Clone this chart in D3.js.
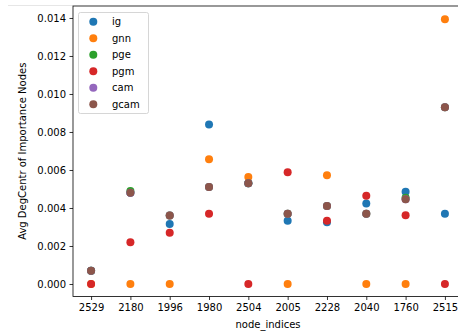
<!DOCTYPE html>
<html>
<head>
<meta charset="utf-8">
<script src="https://cdn.jsdelivr.net/npm/d3@7"></script>
<style>
  html, body { margin: 0; padding: 0; background: #fff; }
  svg { display: block; font-family: "DejaVu Sans", sans-serif; }
</style>
</head>
<body>
<div id="chart"></div>
<script>
// Node index categories along the x axis
const nodeIndices = ["2529", "2180", "1996", "1980", "2504", "2005", "2228", "2040", "1760", "2515"];

// Average degree centrality of important nodes per explainer
const ig   = [0.0007, 0.0048, 0.00316, 0.0084, 0.0053, 0.00333, 0.00325, 0.00423, 0.00486, 0.0037];
const gnn  = [0.0, 0.0, 0.0, 0.00656, 0.00563, 0.0, 0.00572, 0.0, 0.0, 0.01393];
const pge  = [0.0007, 0.0049, 0.00361, 0.0051, 0.0053, 0.0037, 0.0041, 0.0037, 0.00454, 0.0093];
const pgm  = [0.0, 0.0022, 0.0027, 0.0037, 0.0, 0.00588, 0.00333, 0.00465, 0.00362, 0.0];
const cam  = [0.0007, 0.0048, 0.00361, 0.0051, 0.0053, 0.0037, 0.0041, 0.0037, 0.00446, 0.0093];
const gcam = [0.0007, 0.0048, 0.00361, 0.0051, 0.0053, 0.0037, 0.0041, 0.0037, 0.00446, 0.0093];

const yTicks = [0.000, 0.002, 0.004, 0.006, 0.008, 0.010, 0.012, 0.014];

const seriesNames = ["ig", "gnn", "pge", "pgm", "cam", "gcam"];
const seriesValues = [ig, gnn, pge, pgm, cam, gcam];
const seriesColors = ["#1f77b4", "#ff7f0e", "#2ca02c", "#d62728", "#9467bd", "#8c564b"];

const W = 458, H = 333;
const plot = { left: 73, right: 463, top: 6, bottom: 296.5 };

const svg = d3.select("#chart").append("svg")
  .attr("width", W).attr("height", H);

// faint edge line at the top-left corner
svg.append("line")
  .attr("x1", 8).attr("x2", plot.left).attr("y1", 5.5).attr("y2", 5.5)
  .attr("stroke", "#e6e6e6").attr("stroke-width", 1);

const x = d3.scaleLinear()
  .domain([-0.46, nodeIndices.length - 1 + 0.46])
  .range([plot.left, plot.right]);

const y = d3.scaleLinear()
  .domain([-0.000658, 0.01463])
  .range([plot.bottom, plot.top]);

// axes
const xAxis = d3.axisBottom(x)
  .tickValues(d3.range(nodeIndices.length))
  .tickFormat(i => nodeIndices[i])
  .tickSize(3.5).tickPadding(3.5);

const yAxis = d3.axisLeft(y)
  .tickValues(yTicks)
  .tickFormat(d3.format(".3f"))
  .tickSize(3.5).tickPadding(3.5);

const gx = svg.append("g")
  .attr("transform", `translate(0,${plot.bottom})`)
  .call(xAxis);
const gy = svg.append("g")
  .attr("transform", `translate(${plot.left},0)`)
  .call(yAxis);

[gx, gy].forEach(g => {
  g.select(".domain").remove();
  g.selectAll(".tick line").attr("stroke", "#000").attr("stroke-width", 0.8);
  g.selectAll(".tick text").attr("fill", "#000").attr("font-size", "10px")
    .attr("font-family", "DejaVu Sans, sans-serif");
});

// spines
svg.append("rect")
  .attr("x", plot.left).attr("y", plot.top)
  .attr("width", plot.right - plot.left).attr("height", plot.bottom - plot.top)
  .attr("fill", "none").attr("stroke", "#000").attr("stroke-width", 0.8);

// points, drawn series by series so later series sit on top
seriesValues.forEach((vals, si) => {
  svg.append("g").selectAll("circle")
    .data(vals)
    .join("circle")
    .attr("cx", (d, i) => x(i))
    .attr("cy", d => y(d))
    .attr("r", 4)
    .attr("fill", seriesColors[si]);
});

// axis labels
svg.append("text")
  .attr("x", (plot.left + plot.right) / 2)
  .attr("y", 328)
  .attr("text-anchor", "middle")
  .attr("font-size", "10px")
  .attr("fill", "#000")
  .text("node_indices");

svg.append("text")
  .attr("transform", `translate(26,${(plot.top + plot.bottom) / 2}) rotate(-90)`)
  .attr("text-anchor", "middle")
  .attr("font-size", "10px")
  .attr("fill", "#000")
  .text("Avg DegCentr of Importance Nodes");

// legend
const legend = svg.append("g");
legend.append("rect")
  .attr("x", 78.5).attr("y", 12.5)
  .attr("width", 70).attr("height", 101)
  .attr("rx", 2).attr("ry", 2)
  .attr("fill", "#fff").attr("fill-opacity", 0.8)
  .attr("stroke", "#cccccc").attr("stroke-width", 0.8);

const rowY = d3.scaleLinear().domain([0, seriesNames.length - 1]).range([21.7, 104.3]);
seriesNames.forEach((name, i) => {
  legend.append("circle")
    .attr("cx", 93.3).attr("cy", rowY(i)).attr("r", 4)
    .attr("fill", seriesColors[i]);
  legend.append("text")
    .attr("x", 112).attr("y", rowY(i))
    .attr("dy", "0.35em")
    .attr("font-size", "10px")
    .attr("fill", "#000")
    .text(name);
});
</script>
</body>
</html>
